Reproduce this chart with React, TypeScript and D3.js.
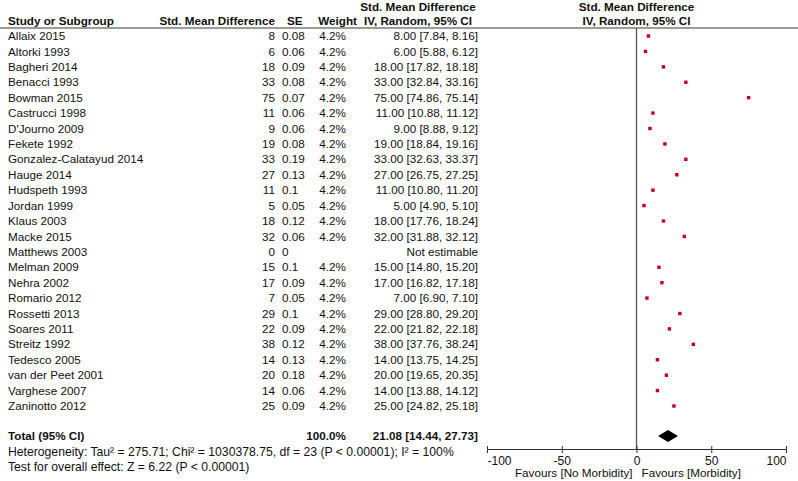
import { useEffect, useRef } from "react";
import * as d3 from "d3";

const W = 798;
const H = 481;

const studies = [
  "Allaix 2015", "Altorki 1993", "Bagheri 2014", "Benacci 1993", "Bowman 2015",
  "Castrucci 1998", "D'Journo 2009", "Fekete 1992", "Gonzalez-Calatayud 2014",
  "Hauge 2014", "Hudspeth 1993", "Jordan 1999", "Klaus 2003", "Macke 2015",
  "Matthews 2003", "Melman 2009", "Nehra 2002", "Romario 2012", "Rossetti 2013",
  "Soares 2011", "Streitz 1992", "Tedesco 2005", "van der Peet 2001",
  "Varghese 2007", "Zaninotto 2012",
];
const smd = [8, 6, 18, 33, 75, 11, 9, 19, 33, 27, 11, 5, 18, 32, 0, 15, 17, 7, 29, 22, 38, 14, 20, 14, 25];
const se = ["0.08", "0.06", "0.09", "0.08", "0.07", "0.06", "0.06", "0.08", "0.19", "0.13", "0.1", "0.05", "0.12", "0.06", "0", "0.1", "0.09", "0.05", "0.1", "0.09", "0.12", "0.13", "0.18", "0.06", "0.09"];
const weight = [4.2, 4.2, 4.2, 4.2, 4.2, 4.2, 4.2, 4.2, 4.2, 4.2, 4.2, 4.2, 4.2, 4.2, null, 4.2, 4.2, 4.2, 4.2, 4.2, 4.2, 4.2, 4.2, 4.2, 4.2];
const ciLower = [7.84, 5.88, 17.82, 32.84, 74.86, 10.88, 8.88, 18.84, 32.63, 26.75, 10.8, 4.9, 17.76, 31.88, null, 14.8, 16.82, 6.9, 28.8, 21.82, 37.76, 13.75, 19.65, 13.88, 24.82];
const ciUpper = [8.16, 6.12, 18.18, 33.16, 75.14, 11.12, 9.12, 19.16, 33.37, 27.25, 11.2, 5.1, 18.24, 32.12, null, 15.2, 17.18, 7.1, 29.2, 22.18, 38.24, 14.25, 20.35, 14.12, 25.18];

const total = { est: 21.08, lower: 14.44, upper: 27.73, weight: "100.0%" };
const heterogeneity = "Heterogeneity: Tau\u00b2 = 275.71; Chi\u00b2 = 1030378.75, df = 23 (P < 0.00001); I\u00b2 = 100%";
const overallTest = "Test for overall effect: Z = 6.22 (P < 0.00001)";
const axisTicks = [-100, -50, 0, 50, 100];
const favours = ["Favours [No Morbidity]", "Favours [Morbidity]"];

const FONT = "'Liberation Sans', Arial, sans-serif";
const FONT_SIZE = "11.7px";
const COLOR_TEXT = "#111";
const COLOR_MARK = "#c00018";
const COLOR_RULE = "#7a7a7a";

// column anchors
const COL_STUDY = 8;
const COL_SMD = 275;
const COL_SE = 282;
const COL_WEIGHT = 346;
const COL_CI = 478;
const COL_CI_HEAD = 418;

const fmt2 = d3.format(".2f");

export default function App() {
  const svgRef = useRef<SVGSVGElement>(null);

  useEffect(() => {
    const svg = d3.select(svgRef.current);
    svg.selectAll("*").remove();

    const x = d3.scaleLinear().domain([-100, 100]).range([487, 786]);
    const y = d3.scaleLinear().domain([0, studies.length - 1]).range([36, 406]);
    const markSize = d3.scaleSqrt().domain([0, 4.2]).range([0, 3.4]);

    const yTotal = 436;
    const yHet = 452;
    const yTest = 467;
    const yAxis = 449;
    const yHeadTop = 28;

    const text = (
      tx: number,
      ty: number,
      s: string,
      anchor = "start",
      bold = false,
      size = FONT_SIZE,
    ) =>
      svg
        .append("text")
        .attr("x", tx)
        .attr("y", ty)
        .attr("dy", "0.35em")
        .attr("text-anchor", anchor)
        .attr("font-family", FONT)
        .attr("font-size", size)
        .attr("font-weight", bold ? "bold" : "normal")
        .attr("fill", COLOR_TEXT)
        .text(s);

    // Headers
    text(COL_STUDY, 21, "Study or Subgroup", "start", true);
    text(COL_SMD, 21, "Std. Mean Difference", "end", true);
    text(COL_SE + 5, 21, "SE", "start", true);
    text(357, 21, "Weight", "end", true);
    text(COL_CI_HEAD, 7, "Std. Mean Difference", "middle", true);
    text(COL_CI_HEAD, 21, "IV, Random, 95% CI", "middle", true);
    text(x(0), 7, "Std. Mean Difference", "middle", true);
    text(x(0), 21, "IV, Random, 95% CI", "middle", true);

    // Header rule
    svg
      .append("line")
      .attr("x1", 0)
      .attr("x2", W)
      .attr("y1", yHeadTop)
      .attr("y2", yHeadTop)
      .attr("stroke", COLOR_RULE)
      .attr("stroke-width", 1.5);

    // Null line
    svg
      .append("line")
      .attr("x1", x(0))
      .attr("x2", x(0))
      .attr("y1", yHeadTop)
      .attr("y2", yAxis)
      .attr("stroke", "#555")
      .attr("stroke-width", 1.3);

    // Study rows
    studies.forEach((name, i) => {
      const yc = y(i);
      text(COL_STUDY, yc, name);
      text(COL_SMD, yc, String(smd[i]), "end");
      text(COL_SE, yc, se[i]);
      const w = weight[i];
      const lo = ciLower[i];
      const hi = ciUpper[i];
      if (w == null || lo == null || hi == null) {
        text(COL_CI, yc, "Not estimable", "end");
        return;
      }
      text(COL_WEIGHT, yc, `${w.toFixed(1)}%`, "end");
      text(COL_CI, yc, `${fmt2(smd[i])} [${fmt2(lo)}, ${fmt2(hi)}]`, "end");

      svg
        .append("line")
        .attr("x1", x(lo))
        .attr("x2", x(hi))
        .attr("y1", yc)
        .attr("y2", yc)
        .attr("stroke", COLOR_MARK)
        .attr("stroke-width", 1);
      const s = markSize(w);
      svg
        .append("rect")
        .attr("x", x(smd[i]) - s / 2)
        .attr("y", yc - s / 2)
        .attr("width", s)
        .attr("height", s)
        .attr("fill", COLOR_MARK);
    });

    // Total row
    text(COL_STUDY, yTotal, "Total (95% CI)", "start", true);
    text(COL_WEIGHT, yTotal, total.weight, "end", true);
    text(
      COL_CI,
      yTotal,
      `${fmt2(total.est)} [${fmt2(total.lower)}, ${fmt2(total.upper)}]`,
      "end",
      true,
    );
    svg
      .append("path")
      .attr(
        "d",
        `M${x(total.lower)},${yTotal} L${x(total.est)},${yTotal - 6} L${x(total.upper)},${yTotal} L${x(total.est)},${yTotal + 6} Z`,
      )
      .attr("fill", "#000");

    text(COL_STUDY, yHet, heterogeneity, "start", false, "12.2px");
    text(COL_STUDY, yTest, overallTest, "start", false, "12.2px");

    // Axis
    const [dMin, dMax] = x.domain();
    const axisG = svg
      .append("g")
      .attr("transform", `translate(0,${yAxis})`)
      .call(
        d3
          .axisBottom(x)
          .tickValues(axisTicks)
          .tickSize(4)
          .tickSizeOuter(0)
          .tickPadding(3)
          .tickFormat((v) => String(v)),
      );
    axisG.select(".domain").attr("stroke", "#333").attr("stroke-width", 1);
    axisG
      .selectAll(".tick line")
      .attr("y1", -3)
      .attr("stroke", "#333");
    axisG
      .selectAll<SVGTextElement, number>(".tick text")
      .attr("font-family", FONT)
      .attr("font-size", "12px")
      .attr("fill", COLOR_TEXT)
      .attr("text-anchor", (d) => (d === dMin ? "start" : d === dMax ? "end" : "middle"));

    text(x(0) - 4, 473, favours[0], "end");
    text(x(0) + 5, 473, favours[1], "start");
  }, []);

  return (
    <svg
      ref={svgRef}
      width={W}
      height={H}
      style={{ position: "absolute", left: 0, top: 0, background: "#fff" }}
    />
  );
}
